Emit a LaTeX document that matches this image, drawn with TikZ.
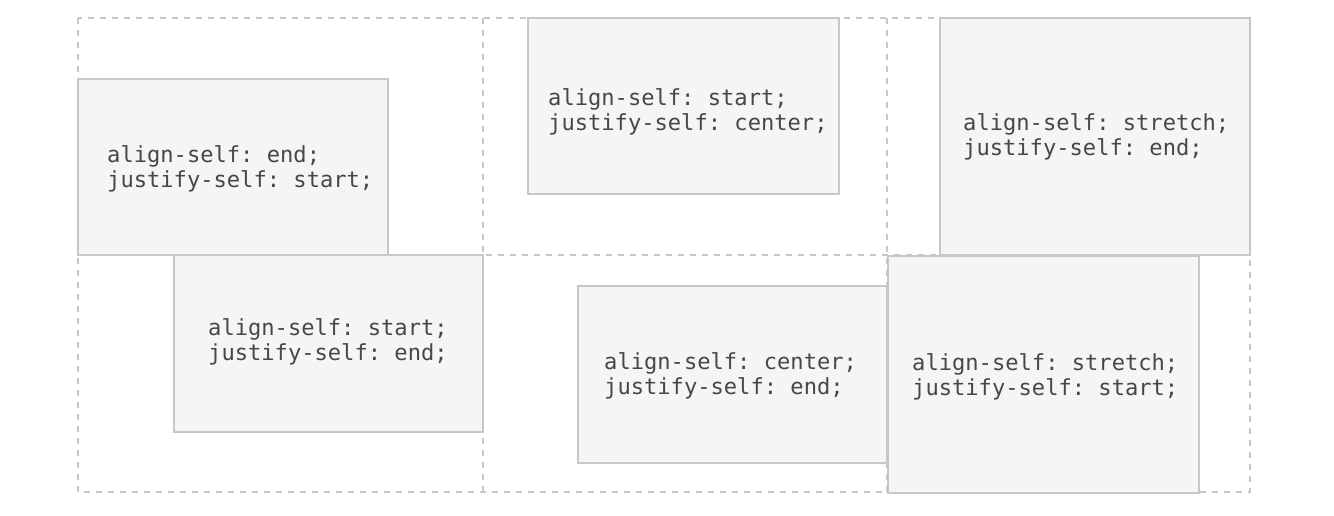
\documentclass[tikz,border=0pt]{standalone}
\usepackage{fontspec}
\setmonofont{DejaVu Sans Mono}
\begin{document}
\begin{tikzpicture}[x=1pt,y=-1pt,
  gridline/.style={draw=black!22,dashed,dash pattern=on 6pt off 6pt,line width=1.2pt},
  itembox/.style={draw=black!22,fill=black!4,line width=1.4pt},
  code/.style={anchor=west,align=left,inner sep=0pt,text=black!72,
    font=\ttfamily\fontsize{22.1}{25}\selectfont}]
\useasboundingbox (0,0) rectangle (1334,516);
% grid lines
\draw[gridline] (78,18) rectangle (1250,492);
\draw[gridline] (483,18) -- (483,492);
\draw[gridline] (887,18) -- (887,492);
\draw[gridline] (78,255) -- (1250,255);
% items
\draw[itembox] (78,79) rectangle (388,255);
\node[code] (t1) at (107,168.7) {align-self: end;\\justify-self: start;};
\draw[itembox] (528,18) rectangle (839,194);
\node[code] (t2) at (548,111.7) {align-self: start;\\justify-self: center;};
\draw[itembox] (940,18) rectangle (1250,255);
\node[code] (t3) at (963,136.7) {align-self: stretch;\\justify-self: end;};
\draw[itembox] (174,255) rectangle (483,432);
\node[code] (t4) at (208,341.7) {align-self: start;\\justify-self: end;};
\draw[itembox] (578,286) rectangle (887,463);
\node[code] (t5) at (604,375.7) {align-self: center;\\justify-self: end;};
\draw[itembox] (888,256) rectangle (1199,493);
\node[code] (t6) at (912,376.7) {align-self: stretch;\\justify-self: start;};
\end{tikzpicture}
\end{document}
